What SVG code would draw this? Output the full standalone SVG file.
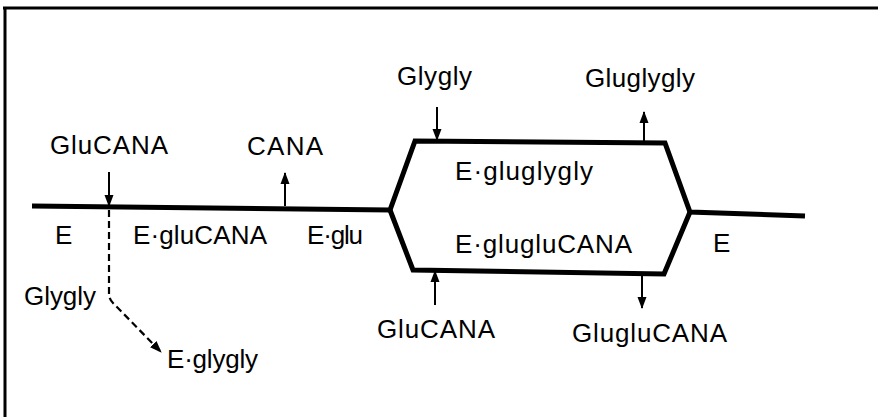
<svg xmlns="http://www.w3.org/2000/svg" width="878" height="417" viewBox="0 0 878 417">
<style>
  .lbl { font-family: "Liberation Sans", Arial, sans-serif; font-size: 26px; fill: #000; }
  .path { fill: none; stroke: #000; stroke-width: 5; stroke-linejoin: miter; }
  .arr { fill: none; stroke: #000; stroke-width: 2; marker-end: url(#head); }
  .dash { fill: none; stroke: #000; stroke-width: 2.2; stroke-dasharray: 7 4; marker-end: url(#head); }
</style>
<defs>
  <marker id="head" markerUnits="userSpaceOnUse" markerWidth="12" markerHeight="12" viewBox="0 0 12 12" refX="11" refY="6" orient="auto">
    <path d="M0,1.5 L12,6 L0,10.5 Z" fill="#000"/>
  </marker>
</defs>
<rect width="878" height="417" fill="#fff"/>
<g id="frame">
  <line x1="3" y1="8" x2="878" y2="8" stroke="#000" stroke-width="3"/>
  <line x1="5" y1="7" x2="5" y2="417" stroke="#000" stroke-width="3"/>
</g>
<g id="connectors">
  <polyline class="path" points="32,206 390,210 415,141 665,143 690,212 805,216"/>
  <polyline class="path" points="390,210 413,270 664,274 690,212"/>
  <line class="arr" x1="109" y1="172" x2="109" y2="206"/>
  <line class="arr" x1="285" y1="206" x2="285" y2="173"/>
  <line class="arr" x1="437" y1="107" x2="437" y2="140"/>
  <line class="arr" x1="644" y1="143" x2="644" y2="112"/>
  <line class="arr" x1="435" y1="305" x2="435" y2="271"/>
  <line class="arr" x1="642" y1="274" x2="642" y2="308"/>
  <path class="dash" d="M109,210 L109,294 Q109,299 113,303 L161,352"/>
</g>
<g id="n-glucana-in"><text class="lbl" x="50" y="154" textLength="118" lengthAdjust="spacing">GluCANA</text></g>
<g id="n-cana-out"><text class="lbl" x="247" y="155" textLength="76" lengthAdjust="spacing">CANA</text></g>
<g id="n-glygly-in"><text class="lbl" x="397" y="85" textLength="75" lengthAdjust="spacing">Glygly</text></g>
<g id="n-gluglygly-out"><text class="lbl" x="585" y="87" textLength="110" lengthAdjust="spacing">Gluglygly</text></g>
<g id="n-e-gluglygly"><text class="lbl" x="455" y="180" textLength="138" lengthAdjust="spacing">E·gluglygly</text></g>
<g id="n-e-glugluCANA"><text class="lbl" x="455" y="253" textLength="177" lengthAdjust="spacing">E·glugluCANA</text></g>
<g id="n-e-left"><text class="lbl" x="55" y="244">E</text></g>
<g id="n-e-gluCANA"><text class="lbl" x="133" y="244" textLength="134" lengthAdjust="spacing">E·gluCANA</text></g>
<g id="n-e-glu"><text class="lbl" x="307" y="244" textLength="56" lengthAdjust="spacing">E·glu</text></g>
<g id="n-e-right"><text class="lbl" x="713" y="252">E</text></g>
<g id="n-glygly-left"><text class="lbl" x="24" y="305" textLength="72" lengthAdjust="spacing">Glygly</text></g>
<g id="n-e-glygly"><text class="lbl" x="167" y="368" textLength="91" lengthAdjust="spacing">E·glygly</text></g>
<g id="n-glucana-bottom"><text class="lbl" x="377" y="338" textLength="118" lengthAdjust="spacing">GluCANA</text></g>
<g id="n-glugluCANA-out"><text class="lbl" x="572" y="342" textLength="155" lengthAdjust="spacing">GlugluCANA</text></g>
</svg>
